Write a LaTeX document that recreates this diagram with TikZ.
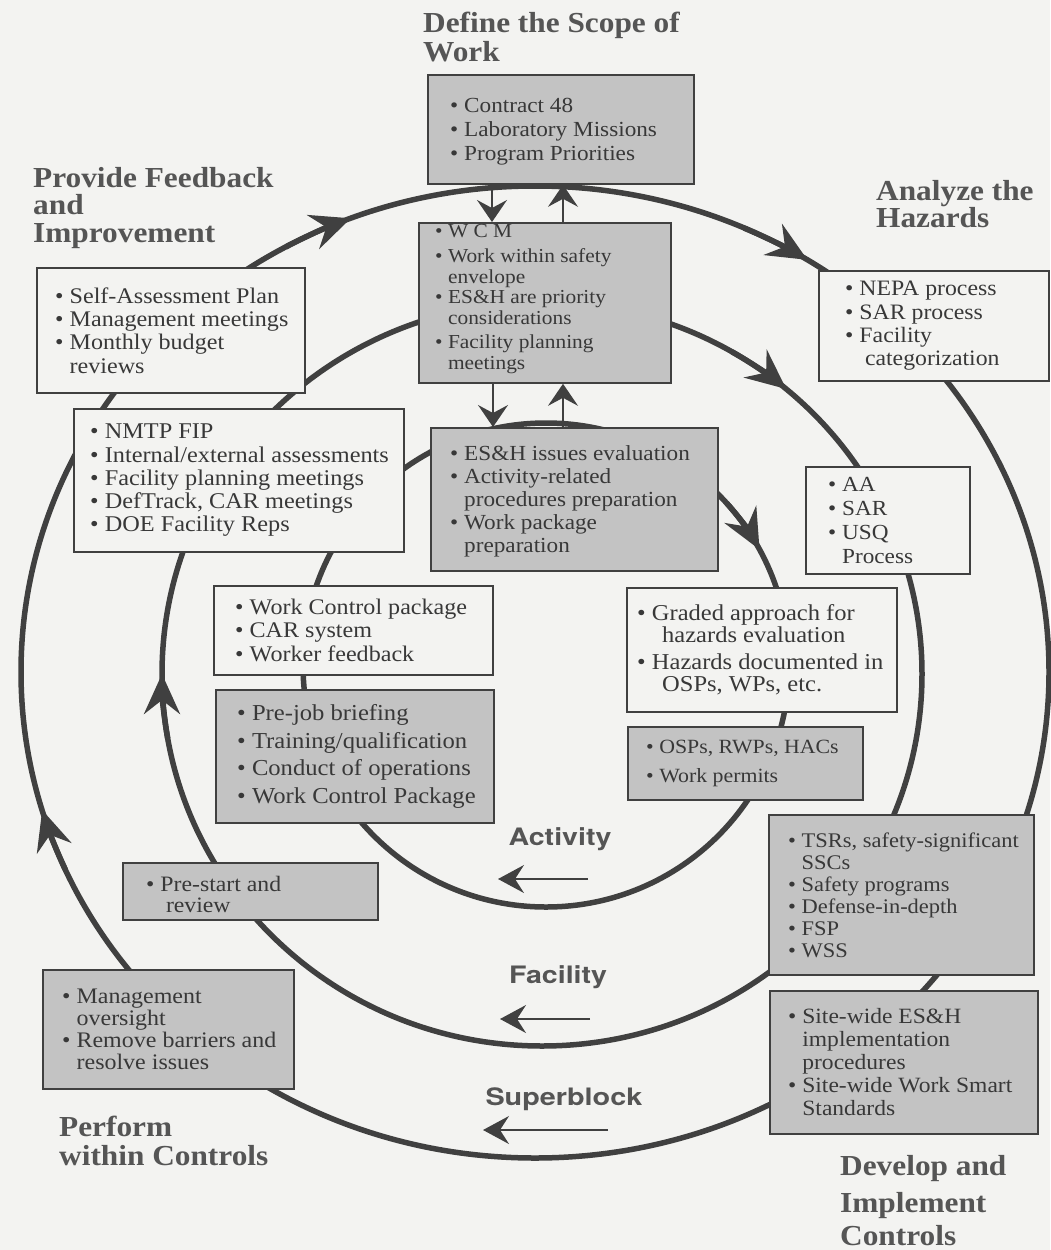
\documentclass[tikz,border=0pt]{standalone}
\usepackage{fontspec}
\setmainfont{Liberation Serif}[FakeStretch=1.08]
\setsansfont{TeX Gyre Heros}
\usepackage{graphicx}
\usetikzlibrary{arrows.meta,calc}

\definecolor{paper}{HTML}{F3F3F1}
\definecolor{ink}{HTML}{383838}
\definecolor{rule}{HTML}{404040}
\definecolor{shade}{HTML}{C3C3C3}
\definecolor{headink}{HTML}{555555}

% bullet and continuation indent for the item lists
\newcommand{\bu}{\makebox[0.65em][l]{\textbullet}}
\newcommand{\ct}{\hspace*{0.65em}}

\begin{document}
\begin{tikzpicture}[x=1pt,y=-1pt,
  ring/.style={draw=rule, line width=5.5pt},
  ringtip/.style={draw=rule, line width=5.5pt, -{Stealth[length=40pt,width=36pt,inset=14pt]}},
  flowarrow/.style={draw=rule, line width=1.8pt, -{Stealth[length=26pt,width=28pt,inset=9pt]}},
  linkarrow/.style={draw=rule, line width=1.8pt, -{Stealth[length=22pt,width=30pt,inset=8pt]}},
  shadebox/.style={draw=rule, line width=1.8pt, fill=shade, anchor=north west, inner sep=0pt},
  plainbox/.style={draw=rule, line width=1.8pt, fill=paper, anchor=north west, inner sep=0pt},
  items/.style={anchor=west, align=left, inner sep=0pt, text=ink},
  phase/.style={anchor=north west, align=left, inner sep=0pt, text=headink,
    font=\fontsize{29}{29}\selectfont\bfseries},
  level/.style={anchor=base, inner sep=0pt, text=headink,
    font=\sffamily\bfseries\fontsize{24}{28}\selectfont}
]
\useasboundingbox (0,0) rectangle (1050,1250);
\fill[paper] (0,0) rectangle (1050,1250);

% centres of the three rings
\coordinate (co) at (535,672);
\coordinate (cm) at (542,674);
\coordinate (ci) at (546,665);

% rings
\draw[ring] (co) ellipse [x radius=514pt, y radius=486pt];
\draw[ring] (cm) ellipse [x radius=380pt, y radius=372pt];
\draw[ring] (ci) ellipse [x radius=243pt, y radius=242pt];

% clockwise arrowheads on the rings
\draw[ringtip] ($(co)+(119:514pt and 486pt)$) arc[start angle=119, end angle=111, x radius=514pt, y radius=486pt];
\draw[ringtip] ($(co)+(66:514pt and 486pt)$) arc[start angle=66, end angle=58, x radius=514pt, y radius=486pt];
\draw[ringtip] ($(co)+(204:514pt and 486pt)$) arc[start angle=204, end angle=196.5, x radius=514pt, y radius=486pt];
\draw[ringtip] ($(cm)+(60:380pt and 372pt)$) arc[start angle=60, end angle=50, x radius=380pt, y radius=372pt];
\draw[ringtip] ($(cm)+(190:380pt and 372pt)$) arc[start angle=190, end angle=180, x radius=380pt, y radius=372pt];
\draw[ringtip] ($(ci)+(42:243pt and 242pt)$) arc[start angle=42, end angle=28.5, x radius=243pt, y radius=242pt];

% phase titles
\node[phase] (tscope) at (423,12) {Define the Scope of\\[0pt]Work};
\node[phase] (tfeed) at (33,167) {Provide Feedback\\[-1.5pt]and\\[-1.5pt]Improvement};
\node[phase] (thaz) at (876,180) {Analyze the\\[-2pt]Hazards};
\node[phase] (tperf) at (59,1116) {Perform\\[0pt]within Controls};
\node[phase] (tdev) at (840,1155) {Develop and\\[8pt]Implement\\[4pt]Controls};

% boxes
\node[shadebox, minimum width=266pt, minimum height=109pt] (scope) at (427,74) {};
\node[shadebox, minimum width=252pt, minimum height=160pt] (wcm) at (418,222) {};
\node[shadebox, minimum width=287pt, minimum height=143pt] (esh) at (430,427) {};
\node[plainbox, minimum width=268pt, minimum height=125pt] (self) at (36,267) {};
\node[plainbox, minimum width=330pt, minimum height=143pt] (nmtp) at (73,408) {};
\node[plainbox, minimum width=230pt, minimum height=110pt] (nepa) at (818,270) {};
\node[plainbox, minimum width=164pt, minimum height=107pt] (aa) at (805,466) {};
\node[plainbox, minimum width=279pt, minimum height=89pt] (wcp) at (213,585) {};
\node[shadebox, minimum width=278pt, minimum height=133pt] (prejob) at (215,689) {};
\node[plainbox, minimum width=270pt, minimum height=124pt] (graded) at (626,587) {};
\node[shadebox, minimum width=235pt, minimum height=73pt] (osps) at (627,726) {};
\node[shadebox, minimum width=265pt, minimum height=160pt] (tsrs) at (768,814) {};
\node[shadebox, minimum width=268pt, minimum height=143pt] (site) at (769,990) {};
\node[shadebox, minimum width=255pt, minimum height=57pt] (prestart) at (122,862) {};
\node[shadebox, minimum width=251pt, minimum height=119pt] (mgmt) at (42,969) {};

% box contents
\node[items, font=\fontsize{21.5}{24}\selectfont] (scopetext) at ([xshift=23pt,yshift=-2pt]scope.west)
  {\bu Contract 48\\\bu Laboratory Missions\\\bu Program Priorities};
\node[items, font=\fontsize{19.8}{20.5}\selectfont] (wcmtext) at ([xshift=17pt,yshift=4pt]wcm.west)
  {\bu W C M\\[5pt]\bu Work within safety\\\ct envelope\\\bu ES\&H are priority\\\ct considerations\\[4pt]\bu Facility planning\\\ct meetings};
\node[items, font=\fontsize{21.5}{23}\selectfont] (eshtext) at ([xshift=20pt,yshift=-2pt]esh.west)
  {\bu ES\&H issues evaluation\\\bu Activity-related\\\ct procedures preparation\\\bu Work package\\\ct preparation};
\node[items, font=\fontsize{22.3}{23.3}\selectfont] (selftext) at ([xshift=19pt]self.west)
  {\bu Self-Assessment Plan\\\bu Management meetings\\\bu Monthly budget\\\ct reviews};
\node[items, font=\fontsize{22.5}{23.3}\selectfont] (nmtptext) at ([xshift=17pt]nmtp.west)
  {\bu NMTP FIP\\\bu Internal/external assessments\\\bu Facility planning meetings\\\bu DefTrack, CAR meetings\\\bu DOE Facility Reps};
\node[items, font=\fontsize{22}{23.3}\selectfont] (nepatext) at ([xshift=27pt]nepa.west)
  {\bu NEPA process\\\bu SAR process\\\bu Facility\\\hspace*{0.9em}categorization};
\node[items, font=\fontsize{21.5}{24}\selectfont] (aatext) at ([xshift=23pt]aa.west)
  {\bu AA\\\bu SAR\\\bu USQ\\\ct Process};
\node[items, font=\fontsize{22.3}{23.5}\selectfont] (wcptext) at ([xshift=22pt]wcp.west)
  {\bu Work Control package\\\bu CAR system\\\bu Worker feedback};
\node[items, font=\fontsize{22.8}{27.5}\selectfont] (prejobtext) at ([xshift=22pt]prejob.west)
  {\bu Pre-job briefing\\\bu Training/qualification\\\bu Conduct of operations\\\bu Work Control Package};
\node[items, font=\fontsize{22.7}{22.5}\selectfont] (gradedtext) at ([xshift=11pt]graded.west)
  {\bu Graded approach for\\\hspace*{1.1em}hazards evaluation\\[4pt]\bu Hazards documented in\\\hspace*{1.1em}OSPs, WPs, etc.};
\node[items, font=\fontsize{20.2}{29}\selectfont] (ospstext) at ([xshift=19pt]osps.west)
  {\bu OSPs, RWPs, HACs\\\bu Work permits};
\node[items, font=\fontsize{20.8}{22}\selectfont] (tsrstext) at ([xshift=20pt]tsrs.west)
  {\bu TSRs, safety-significant\\\ct SSCs\\\bu Safety programs\\\bu Defense-in-depth\\\bu FSP\\\bu WSS};
\node[items, font=\fontsize{21.8}{23}\selectfont] (sitetext) at ([xshift=19pt]site.west)
  {\bu Site-wide ES\&H\\\ct implementation\\\ct procedures\\\bu Site-wide Work Smart\\\ct Standards};
\node[items, font=\fontsize{22}{21}\selectfont] (prestarttext) at ([xshift=24pt,yshift=-3pt]prestart.west)
  {\bu Pre-start and\\\hspace*{0.9em}review};
\node[items, font=\fontsize{22.2}{22}\selectfont] (mgmttext) at ([xshift=20pt]mgmt.west)
  {\bu Management\\\ct oversight\\\bu Remove barriers and\\\ct resolve issues};

% links between the stacked central boxes
\draw[linkarrow] (492,0 |- scope.south) -- (492,0 |- wcm.north);
\draw[linkarrow] (563,0 |- wcm.north) -- (563,0 |- scope.south);
\draw[linkarrow] (493,0 |- wcm.south) -- (493,0 |- esh.north);
\draw[linkarrow] (563,0 |- esh.north) -- (563,0 |- wcm.south);

% level labels with their direction arrows
\node[level] (activity) at (560,845) {\scalebox{1.19}[1]{Activity}};
\node[level] (facility) at (558,983) {\scalebox{1.19}[1]{Facility}};
\node[level] (superblock) at (564,1105) {\scalebox{1.2}[1]{Superblock}};
\coordinate (actfrom) at (588,879);
\coordinate (actto) at (498,879);
\coordinate (facfrom) at (590,1019);
\coordinate (facto) at (500,1019);
\coordinate (supfrom) at (608,1130);
\coordinate (supto) at (483,1130);
\draw[flowarrow] (actfrom) -- (actto);
\draw[flowarrow] (facfrom) -- (facto);
\draw[flowarrow] (supfrom) -- (supto);
\end{tikzpicture}
\end{document}
